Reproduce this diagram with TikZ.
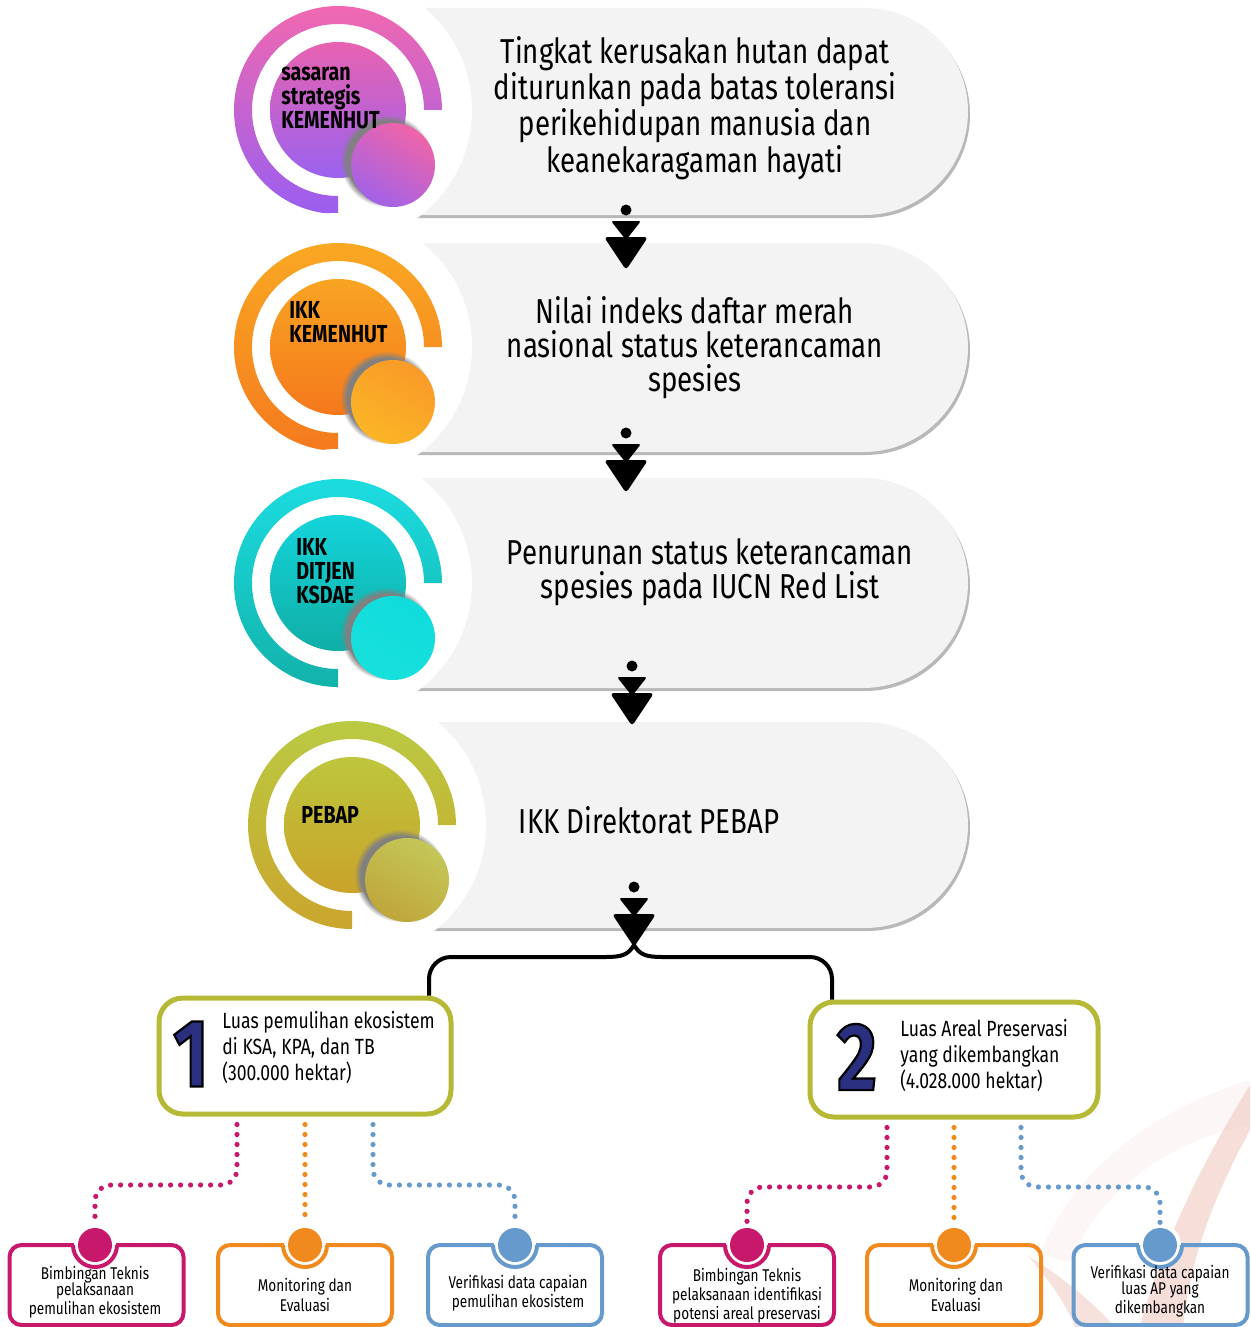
\documentclass[tikz,border=0pt]{standalone}
\usepackage{fontspec}
\setmainfont{Fira Sans}[FakeStretch=0.8]
\usetikzlibrary{shadows}
\definecolor{mag}{HTML}{C8186B}
\definecolor{org}{HTML}{F08A1E}
\definecolor{blu}{HTML}{6699CC}
\definecolor{oli}{HTML}{B5B935}
\definecolor{nav}{HTML}{2B2F80}
\definecolor{pillgray}{HTML}{F3F3F3}
\definecolor{wm}{HTML}{F0C9C0}
\definecolor{pkA}{HTML}{F068B0}\definecolor{pkB}{HTML}{9A5EF0}\definecolor{pkC}{HTML}{E862B0}
\definecolor{pkD}{HTML}{9A62F0}\definecolor{pkE}{HTML}{F064A8}\definecolor{pkF}{HTML}{A262E8}
\definecolor{orA}{HTML}{F9A823}\definecolor{orB}{HTML}{F57A1E}\definecolor{orC}{HTML}{F8A422}
\definecolor{orD}{HTML}{F5781C}\definecolor{orE}{HTML}{F99A28}\definecolor{orF}{HTML}{FBB526}
\definecolor{cyA}{HTML}{1CDCE0}\definecolor{cyB}{HTML}{12B2AA}\definecolor{cyC}{HTML}{14D4DA}
\definecolor{cyD}{HTML}{10AEA6}\definecolor{cyE}{HTML}{10DCDC}\definecolor{cyF}{HTML}{18E0DC}
\definecolor{olA}{HTML}{BACA42}\definecolor{olB}{HTML}{CBA52E}\definecolor{olC}{HTML}{BDC63C}
\definecolor{olD}{HTML}{CAA32A}\definecolor{olE}{HTML}{C4C758}\definecolor{olF}{HTML}{BFA63A}
% ring icon: cx, cy, ring top, ring bottom, inner top, inner bottom, small top, small bottom
\newcommand\ringicon[8]{%
  \fill[white] (#1,-#2) circle[radius=134];
  \shade[top color=#3,bottom color=#4] ({#1+104},-#2) arc[start angle=0,end angle=270,radius=104]
     -- ({#1},{-#2-86}) arc[start angle=270,end angle=0,radius=86] -- cycle;
  \shade[top color=#5,bottom color=#6] (#1,-#2) circle[radius=68];
  \shade[top color=#7,bottom color=#8,shading angle=-30,
     circular drop shadow={shadow xshift=-3pt,shadow yshift=2pt,shadow scale=1.1}]
     ({#1+55},{-#2-55}) circle[radius=42];
}
% pill: top y, bottom y
\newcommand\pill[2]{%
  \pgfmathsetmacro\rr{(#2-#1)/2}
  \fill[black!28] (403,{-#1-3}) -- ({968-\rr+2},{-#1-3}) arc[start angle=90,end angle=-90,radius=\rr] -- (403,{-#2-3}) -- cycle;
  \fill[pillgray] (400,-#1) -- ({968-\rr},-#1) arc[start angle=90,end angle=-90,radius=\rr] -- (400,-#2) -- cycle;
}
% arrow: x, y of dot
\newcommand\downarr[2]{%
  \fill (#1,-#2) circle[radius=5.5];
  \fill[rounded corners=1.2pt] ({#1-15},{-#2-11}) -- ({#1+15},{-#2-11}) -- (#1,{-#2-30}) -- cycle;
  \fill[rounded corners=1.8pt] ({#1-22},{-#2-27}) -- ({#1+22},{-#2-27}) -- (#1,{-#2-60}) -- cycle;
}
\tikzset{
  rowtext/.style={align=center,font=\fontsize{17.3}{17}\selectfont},
  iconlabel/.style={align=left,anchor=west,inner sep=0pt,font=\fontsize{12.3}{12}\selectfont\bfseries},
  goalbox/.style={draw=oli,line width=2.5pt,rounded corners=12pt,fill=white},
  goaltext/.style={align=left,anchor=west,inner sep=0pt,font=\fontsize{11}{13}\selectfont},
  numtxt/.style={inner sep=0pt,font=\fontsize{48}{48}\selectfont\bfseries},
  subbox/.style={draw=#1,line width=2pt,rounded corners=6pt,minimum width=87pt,minimum height=40pt},
  subtext/.style={align=center,inner sep=0pt,font=\fontsize{8.5}{8.3}\selectfont},
  dotcirc/.style={circle,fill=#1,minimum size=17pt,inner sep=0pt},
  dotline/.style={draw=#1,line width=2.6pt,line cap=round,dash pattern=on 0pt off 5pt,rounded corners=8pt},
  bracket/.style={line width=2pt}
}
\newcommand\outlined[1]{\special{pdf:literal direct 2 Tr 0 0 0 RG 1.1 w}#1\special{pdf:literal direct 0 Tr}}
\newcommand\subdot[3]{% x, y, color
  \fill[white] (#1,-#2) circle[radius=21];
  \draw[#3,line width=2pt] ({#1-22},-#2) arc[start angle=180,end angle=360,radius=22];
}
\begin{document}
\begin{tikzpicture}[x=0.5pt,y=0.5pt]
\useasboundingbox (0,0) rectangle (1250,-1327);
\fill[white] (0,0) rectangle (1250,-1327);

% watermark
\fill[wm,opacity=0.6] (1250,-1130) .. controls (1212,-1200) and (1190,-1260) .. (1183,-1327)
   -- (1140,-1327) .. controls (1160,-1250) and (1200,-1165) .. (1250,-1085) -- cycle;
\fill[wm,opacity=0.55] (1028,-1256) .. controls (1065,-1278) and (1095,-1305) .. (1115,-1327)
   -- (1075,-1327) .. controls (1064,-1300) and (1046,-1276) .. (1028,-1256) -- cycle;
\fill[wm,opacity=0.14] (1250,-1080) .. controls (1120,-1120) and (1060,-1200) .. (1040,-1255)
   -- (1070,-1262) .. controls (1100,-1190) and (1170,-1140) .. (1250,-1125) -- cycle;

% pills
\pill{8}{215}
\pill{243}{452}
\pill{478}{688}
\pill{722}{928}

% icons
\ringicon{338}{110}{pkA}{pkB}{pkC}{pkD}{pkE}{pkF}
\ringicon{338}{347}{orA}{orB}{orC}{orD}{orE}{orF}
\ringicon{338}{583}{cyA}{cyB}{cyC}{cyD}{cyE}{cyF}
\ringicon{352}{825}{olA}{olB}{olC}{olD}{olE}{olF}

% icon labels
\node[iconlabel] (l1) at (281,-98) {sasaran\\strategis\\KEMENHUT};
\node[iconlabel] (l2) at (289,-322) {IKK\\KEMENHUT};
\node[iconlabel] (l3) at (296,-571) {IKK\\DITJEN\\KSDAE};
\node[iconlabel] (l4) at (301,-815) {PEBAP};

% row texts
\node[rowtext] (t1) at (695,-108) {Tingkat kerusakan hutan dapat\\diturunkan pada batas toleransi\\perikehidupan manusia dan\\keanekaragaman hayati};
\node[rowtext] (t2) at (695,-348) {Nilai indeks daftar merah\\nasional status keterancaman\\spesies};
\node[rowtext] (t3) at (710,-572) {Penurunan status keterancaman\\spesies pada IUCN Red List};
\node[rowtext] (t4) at (649,-820) {IKK Direktorat PEBAP};

% arrows
\downarr{626}{210}
\downarr{626}{433}
\downarr{632}{666}
\downarr{634}{887}
\coordinate (ap) at (634,-945);

% goal boxes
\node[goalbox,minimum width=146pt,minimum height=58pt] (b1) at (305,-1056) {};
\node[goalbox,minimum width=144pt,minimum height=57.5pt] (b2) at (954,-1059.5) {};
\node[numtxt,text=nav] (n1) at (191,-1054) {\outlined{1}};
\node[numtxt,text=nav] (n2) at (857,-1057) {\outlined{2}};
\node[goaltext] (g1) at (222,-1048) {Luas pemulihan ekosistem\\di KSA, KPA, dan TB\\(300.000 hektar)};
\node[goaltext] (g2) at (900,-1056) {Luas Areal Preservasi\\yang dikembangkan\\(4.028.000 hektar)};

% bracket
\coordinate (L) at (429,-957);
\coordinate (R) at (832,-957);
\draw[bracket] (ap) .. controls (628,-955) and (622,-957) .. (605,-957) [rounded corners=11pt] -- (L) -- (L |- b1.north);
\draw[bracket] (ap) .. controls (640,-955) and (646,-957) .. (663,-957) [rounded corners=11pt] -- (R) -- (R |- b2.north);

% sub boxes
\node[subbox=mag] (s1) at (96.5,-1285) {};
\node[subbox=org] (s2) at (305,-1285) {};
\node[subbox=blu] (s3) at (515,-1285) {};
\node[subbox=mag] (s4) at (747,-1285) {};
\node[subbox=org] (s5) at (954,-1285) {};
\node[subbox=blu] (s6) at (1160.5,-1285) {};

\subdot{95}{1245}{mag}
\subdot{305}{1245}{org}
\subdot{515}{1245}{blu}
\subdot{747}{1245}{mag}
\subdot{954}{1245}{org}
\subdot{1160}{1245}{blu}
\node[dotcirc=mag] (c1) at (95,-1245) {};
\node[dotcirc=org] (c2) at (305,-1245) {};
\node[dotcirc=blu] (c3) at (515,-1245) {};
\node[dotcirc=mag] (c4) at (747,-1245) {};
\node[dotcirc=org] (c5) at (954,-1245) {};
\node[dotcirc=blu] (c6) at (1160,-1245) {};

% dotted connectors
\coordinate (k1) at (237,-1185);
\coordinate (k3) at (373,-1185);
\coordinate (k4) at (887,-1187);
\coordinate (k6) at (1021,-1187);
\draw[dotline=mag] ([yshift=-4pt]b1.south -| k1) -- (k1) -- (k1 -| c1) -- ([yshift=2pt]c1.north);
\draw[dotline=org] ([yshift=-4pt]b1.south -| c2) -- ([yshift=2pt]c2.north);
\draw[dotline=blu] ([yshift=-4pt]b1.south -| k3) -- (k3) -- (k3 -| c3) -- ([yshift=2pt]c3.north);
\draw[dotline=mag] ([yshift=-4pt]b2.south -| k4) -- (k4) -- (k4 -| c4) -- ([yshift=2pt]c4.north);
\draw[dotline=org] ([yshift=-4pt]b2.south -| c5) -- ([yshift=2pt]c5.north);
\draw[dotline=blu] ([yshift=-4pt]b2.south -| k6) -- (k6) -- (k6 -| c6) -- ([yshift=2pt]c6.north);

% sub texts
\node[subtext] (x1) at (95,-1292) {Bimbingan Teknis\\pelaksanaan\\pemulihan ekosistem};
\node[subtext,font=\fontsize{8.5}{10}\selectfont] (x2) at (305,-1295) {Monitoring dan\\Evaluasi};
\node[subtext] (x3) at (518,-1293) {Verifikasi data capaian\\pemulihan ekosistem};
\node[subtext] (x4) at (747,-1296) {Bimbingan Teknis\\pelaksanaan identifikasi\\potensi areal preservasi};
\node[subtext,font=\fontsize{8.5}{10}\selectfont] (x5) at (956,-1295) {Monitoring dan\\Evaluasi};
\node[subtext] (x6) at (1160,-1291) {Verifikasi data capaian\\luas AP yang\\dikembangkan};
\end{tikzpicture}
\end{document}
